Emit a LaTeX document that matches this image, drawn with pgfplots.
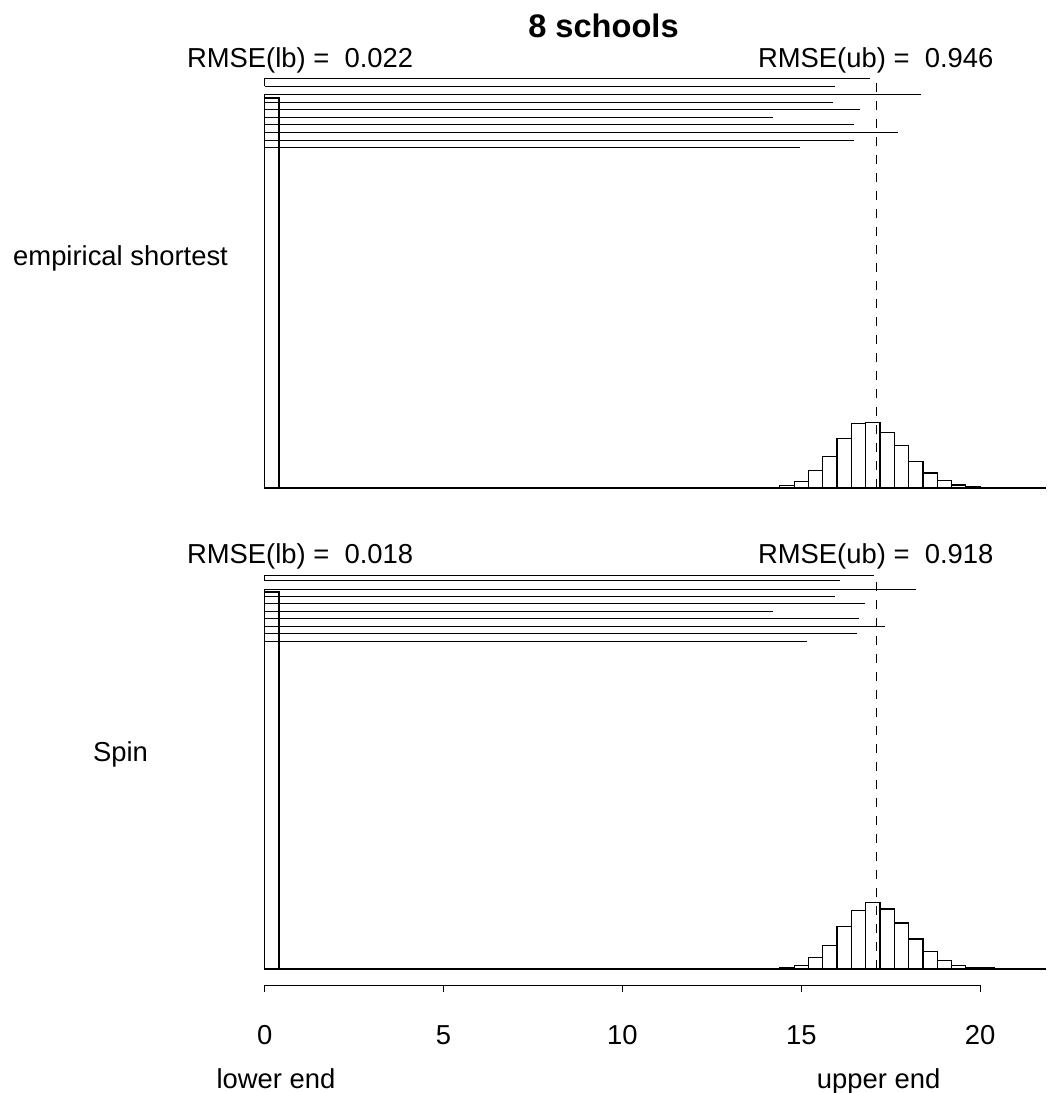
\documentclass[border=0pt]{standalone}
\usepackage{pgfplots}
\pgfplotsset{compat=1.18}
\usepackage{fontspec}
\setmainfont{Liberation Sans}
\newcommand\tf{\fontsize{13.7pt}{16pt}\selectfont}
\begin{document}
\begin{tikzpicture}
\path[use as bounding box] (0,0) rectangle (523pt,-546.5pt);
\pgfplotsset{panel/.style={scale only axis, width=523pt, xmin=-7.4, xmax=21.84, clip=false, anchor=south west}}
% ---------------- top panel ----------------
\begin{axis}[panel, at={(0,-244pt)}, height=244pt, ymin=0, ymax=488, hide axis]
\addplot[ybar interval, draw=black, fill=none, line width=0.6pt] coordinates {(0,390) (0.4,0)};
\addplot[xcomb, black, line width=0.5pt, mark=none] coordinates {
(16.93,409.9) (15.93,401.6) (18.34,393.9) (15.88,385.5) (16.64,378.6)
(14.22,370.9) (16.46,363.2) (17.69,355.6) (16.47,347.9) (14.97,340.2)};
\addplot[black, line width=0.5pt] coordinates {(0,409.9) (0,401.6)};
\addplot[black, line width=0.5pt] coordinates {(0,393.9) (0,0)};
\addplot[ybar interval, draw=black, fill=white, line width=0.6pt] coordinates {
(13.6,0.2) (14.0,0.5) (14.4,2.3) (14.8,6.7) (15.2,17.3) (15.6,31.7) (16.0,49.7)
(16.4,64.7) (16.8,65.3) (17.2,55.7) (17.6,42.3) (18.0,26.3) (18.4,15) (18.8,7.3)
(19.2,3) (19.6,1.3) (20.0,0.7) (20.4,0.3) (20.8,0)};
\addplot[black, line width=0.9pt] coordinates {(0,0) (21.84,0)};
\addplot[black, line width=0.5pt, dash pattern=on 4.5pt off 4.5pt] coordinates {(17.09,0) (17.09,409.9)};
\node[font=\bfseries\fontsize{16.3pt}{19pt}\selectfont, anchor=base] at (axis cs:9.47,451) {8 schools};
\node[font=\tf, anchor=base] at (axis cs:0.99,421) {RMSE(lb) = \ 0.022};
\node[font=\tf, anchor=base] at (axis cs:17.08,421) {RMSE(ub) = \ 0.946};
\node[font=\tf, anchor=center] at (axis cs:-4.03,230) {empirical shortest};
\end{axis}
% ---------------- bottom panel ----------------
\begin{axis}[panel, at={(0,-492.5pt)}, height=258pt, ymin=-16, ymax=500,
  hide y axis, axis x line*=bottom, x axis line style={draw=none},
  xtick={0,5,10,15,20}, tick align=outside, major tick length=3.5pt,
  xtick style={black, line width=0.5pt},
  xticklabel style={font=\tf, anchor=center, yshift=-21.5pt},
  /pgf/number format/assume math mode=true]
\addplot[ybar interval, draw=black, fill=none, line width=0.6pt] coordinates {(0,377) (0.4,0)};
\addplot[xcomb, black, line width=0.5pt, mark=none] coordinates {
(17.02,393.9) (16.08,388.4) (18.21,380) (15.93,373) (16.77,365.3)
(14.22,357.7) (16.61,350.7) (17.35,343) (16.55,335.4) (15.15,327.7)};
\addplot[black, line width=0.5pt] coordinates {(0,393.9) (0,388.4)};
\addplot[black, line width=0.5pt] coordinates {(0,380) (0,0)};
\addplot[ybar interval, draw=black, fill=white, line width=0.6pt] coordinates {
(13.6,0.3) (14.0,0.7) (14.4,1.3) (14.8,3.7) (15.2,11.7) (15.6,23.7) (16.0,42.3)
(16.4,58.3) (16.8,66.3) (17.2,60) (17.6,46) (18.0,30) (18.4,17.7) (18.8,8.7)
(19.2,3.3) (19.6,1.7) (20.0,1) (20.4,0.7) (20.8,0.5) (21.2,0.2) (21.6,0)};
\addplot[black, line width=0.9pt] coordinates {(0,0) (21.84,0)};
\addplot[black, line width=0.5pt, dash pattern=on 4.5pt off 4.5pt] coordinates {(17.09,0) (17.09,393.9)};
\draw[black, line width=0.5pt] (axis cs:0,-16) -- (axis cs:20,-16);
\node[font=\tf, anchor=base] at (axis cs:0.99,406) {RMSE(lb) = \ 0.018};
\node[font=\tf, anchor=base] at (axis cs:17.08,406) {RMSE(ub) = \ 0.918};
\node[font=\tf, anchor=center] at (axis cs:-4.03,215) {Spin};
\node[font=\tf, anchor=base] at (axis cs:0.316,-119) {lower end};
\node[font=\tf, anchor=base] at (axis cs:17.16,-119) {upper end};
\end{axis}
\end{tikzpicture}
\end{document}
